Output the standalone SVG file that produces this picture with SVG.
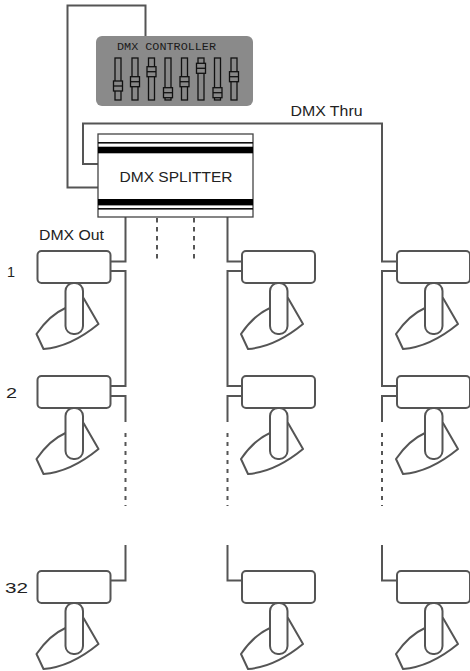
<svg xmlns="http://www.w3.org/2000/svg" width="470" height="671" viewBox="0 0 470 671">
<style>
.w{fill:none;stroke:#555;stroke-width:2}
.dash{fill:none;stroke:#555;stroke-width:2;stroke-dasharray:4.5 4.5}
.dot{fill:none;stroke:#555;stroke-width:2;stroke-dasharray:4 5}
.fx{fill:#fff;stroke:#555;stroke-width:2;stroke-linejoin:round}
.lbl{font-family:"Liberation Sans",Arial,sans-serif;font-size:14px;fill:#222}
.num{font-family:"Liberation Sans",Arial,sans-serif;font-size:15px;fill:#222}
.trk{fill:#888;stroke:#111;stroke-width:1.3}
.knob{fill:#888;stroke:#111;stroke-width:1.3}
</style>
<defs>
<g id="fixture">
<path class="fx" d="M28,57 Q12,64 -1,83 L6,98 Q33,96 61,73 L46,47 Z"/>
<rect class="fx" x="28" y="32" width="17.5" height="51" rx="8"/>
<rect class="fx" x="0" y="0" width="73" height="32" rx="4"/>
</g>
<g id="slider">
<rect class="trk" x="-3" y="58" width="6" height="42"/>
</g>
<g id="knob">
<rect class="knob" x="-4.5" y="-5" width="9" height="10"/>
<line x1="-4.5" y1="0" x2="4.5" y2="0" stroke="#111" stroke-width="1.3"/>
</g>
</defs>

<g id="connectors">
<path class="w" d="M145.5,36 V5.5 H67.5 V187.5 H98"/>
<path class="w" d="M98,164 H83 V123.5 H382 V261.5 H397"/>
<path class="w" d="M125.5,217 V261.5 H111"/>
<path class="w" d="M227.5,217 V261.5 H242"/>
<path class="dash" d="M157,218 V262"/>
<path class="dash" d="M194,218 V262"/>
<path class="w" d="M111,271 H125.5 V386 H111"/>
<path class="w" d="M111,396 H125.5 V422"/>
<path class="dot" d="M125.5,433 V506"/>
<path class="w" d="M125.5,545 V580.5 H111"/>
<path class="w" d="M242,271 H227.5 V386 H242"/>
<path class="w" d="M242,396 H227.5 V422"/>
<path class="dot" d="M227.5,433 V506"/>
<path class="w" d="M227.5,545 V580.5 H242"/>
<path class="w" d="M397,271 H382 V386 H397"/>
<path class="w" d="M397,396 H382 V422"/>
<path class="dot" d="M382,433 V506"/>
<path class="w" d="M382,545 V580.5 H397"/>
</g>

<g id="controller">
<rect x="96" y="36" width="157" height="70" rx="6" fill="#8a8a8a"/>
<text x="117" y="50" font-family="'Liberation Mono','Courier New',monospace" font-size="11" fill="#1a1a1a" textLength="99" lengthAdjust="spacingAndGlyphs">DMX CONTROLLER</text>
<use href="#slider" x="118"/><use href="#knob" x="118" y="86"/>
<use href="#slider" x="135"/><use href="#knob" x="135" y="81.7"/>
<use href="#slider" x="151.5"/><use href="#knob" x="151.5" y="71.7"/>
<use href="#slider" x="168"/><use href="#knob" x="168" y="92.7"/>
<use href="#slider" x="184.5"/><use href="#knob" x="184.5" y="81.7"/>
<use href="#slider" x="201"/><use href="#knob" x="201" y="68.3"/>
<use href="#slider" x="217.5"/><use href="#knob" x="217.5" y="92.7"/>
<use href="#slider" x="234"/><use href="#knob" x="234" y="76.7"/>
</g>

<g id="splitter">
<rect x="98" y="134" width="155" height="83" fill="#fff" stroke="#444" stroke-width="1.3"/>
<rect x="98" y="142" width="155" height="1.6" fill="#111"/>
<rect x="98" y="146.7" width="155" height="6.6" fill="#000"/>
<rect x="98" y="199" width="155" height="6.4" fill="#000"/>
<rect x="98" y="208" width="155" height="1.6" fill="#111"/>
<text class="lbl" x="176" y="182" text-anchor="middle" textLength="113" lengthAdjust="spacingAndGlyphs">DMX SPLITTER</text>
</g>

<g id="labels">
<text class="lbl" x="290.5" y="116" textLength="72" lengthAdjust="spacingAndGlyphs">DMX Thru</text>
<text class="lbl" x="39" y="240" textLength="65" lengthAdjust="spacingAndGlyphs">DMX Out</text>
<text class="num" x="7" y="277" textLength="8" lengthAdjust="spacingAndGlyphs">1</text>
<text class="num" x="6" y="397.5" textLength="11" lengthAdjust="spacingAndGlyphs">2</text>
<text class="num" x="5" y="593" textLength="23" lengthAdjust="spacingAndGlyphs">32</text>
</g>

<g id="fixture-1-1"><use href="#fixture" x="37.5" y="251"/></g>
<g id="fixture-1-2"><use href="#fixture" x="242" y="251"/></g>
<g id="fixture-1-3"><use href="#fixture" x="397" y="251"/></g>
<g id="fixture-2-1"><use href="#fixture" x="37.5" y="376"/></g>
<g id="fixture-2-2"><use href="#fixture" x="242" y="376"/></g>
<g id="fixture-2-3"><use href="#fixture" x="397" y="376"/></g>
<g id="fixture-32-1"><use href="#fixture" x="37.5" y="571"/></g>
<g id="fixture-32-2"><use href="#fixture" x="242" y="571"/></g>
<g id="fixture-32-3"><use href="#fixture" x="397" y="571"/></g>
</svg>
